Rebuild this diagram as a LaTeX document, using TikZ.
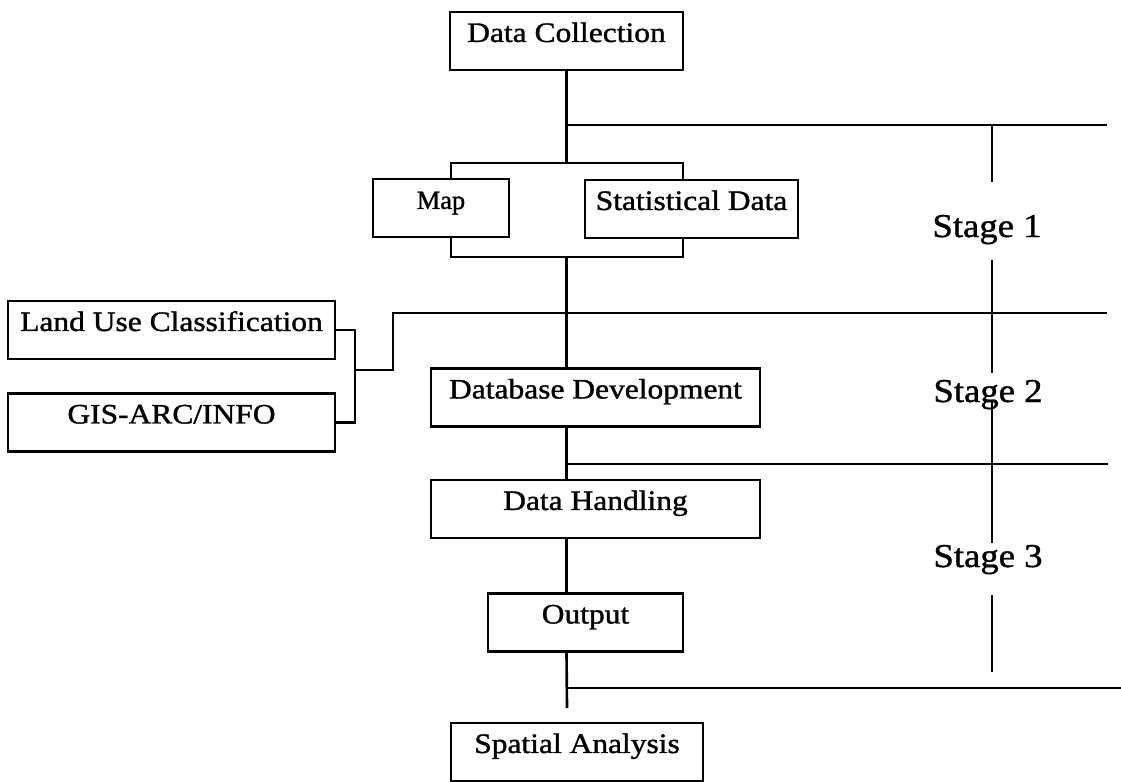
\documentclass[tikz,border=0pt]{standalone}
\usepackage{fontspec}
\setmainfont{Liberation Serif}[FakeStretch=1.12, FakeBold=1.3]
\newfontfamily\mapfont{Liberation Serif}[FakeBold=1.3]
\newfontfamily\stagefont{Liberation Serif}[FakeStretch=1.1, FakeBold=1.1]
\usepackage{tikz}
\usetikzlibrary{positioning, calc}
\tikzstyle{box} = [rectangle, draw=black, line width=1.4pt, inner xsep=2pt, inner ysep=0pt, text height=17pt, text depth=15.9pt, minimum height=32.9pt, font=\fontsize{16}{18}\selectfont]
\tikzstyle{line} = [line width=1.5pt]
\tikzstyle{stagelabel} = [anchor=base, inner sep=0pt, font=\stagefont\fontsize{19}{21}\selectfont]

\begin{document}
\begin{tikzpicture}[x=0.02cm, y=-0.02cm]
\useasboundingbox (0,0) rectangle (1121,781);

% boxes
\node (coll) [box, minimum width=4.66cm] at (566.5,41) {Data Collection};
\node (map) [box, minimum width=2.72cm, font=\mapfont\fontsize{15}{17}\selectfont] at (441,208) {Map};
\node (stat) [box, minimum width=4.26cm] at (691.5,209) {Statistical Data};
\node (land) [box, minimum width=6.54cm] at (171.5,330) {Land Use Classification};
\node (gis) [box, minimum width=6.54cm] at (171.5,422.5) {GIS-ARC/INFO};
\node (dbdev) [box, minimum width=6.58cm] at (595.5,397.5) {Database Development};
\node (handle) [box, minimum width=6.58cm] at (595.5,509) {Data Handling};
\node (output) [box, minimum width=3.9cm] at (585.5,622.5) {Output};
\node (spatial) [box, minimum width=5.04cm] at (577,752) {Spatial Analysis};

% stages
\node (stage1) [stagelabel] at (987,237) {Stage 1};
\node (stage2) [stagelabel] at (988,402) {Stage 2};
\node (stage3) [stagelabel] at (988,567) {Stage 3};

\coordinate (tl) at (451,163);
\coordinate (tr) at (683,163);
\coordinate (bl) at (451,257);
\coordinate (br) at (683,257);
\coordinate (lk) at (355,370);
\coordinate (k) at (393,313);
\coordinate (e1) at (1107,125);
\coordinate (e2) at (1107,313);
\coordinate (e3) at (1108,464);
\coordinate (e4) at (1121,688);
\coordinate (tail) at (567,708);

% main column
\draw [line] (coll.south) -- (coll.south |- tl);
\draw [line] (coll.south |- e1) -- (e1);
\draw [line] (map.north -| tl) |- (tr) -- (stat.north -| tr);
\draw [line] (map.south -| bl) |- (br) -- (stat.south -| br);
\draw [line] (coll.south |- bl) -- (coll.south |- dbdev.north);
\draw [line] (land.east) -| (lk) |- (gis.east);
\draw [line] (lk) -| (k) -- (e2);
\draw [line] (coll.south |- dbdev.south) -- (coll.south |- handle.north);
\draw [line] (coll.south |- e3) -- (e3);
\draw [line] (coll.south |- handle.south) -- (coll.south |- output.north);
\draw [line] (coll.south |- output.south) -- (tail);
\draw [line] (coll.south |- e4) -- (e4);

% stage column
\draw [line] (992,124) -- (992,182);
\draw [line] (992,260) -- (992,373);
\draw [line] (992,402) -- (992,543);
\draw [line] (992,595) -- (992,672);

\end{tikzpicture}
\end{document}
